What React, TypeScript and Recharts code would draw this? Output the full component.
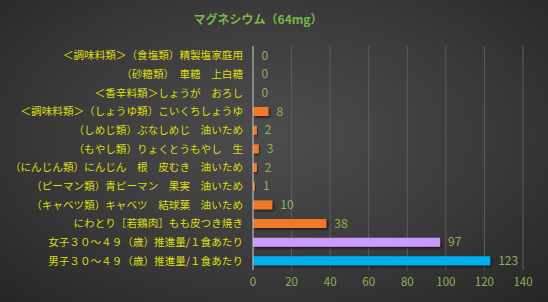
import { Bar, BarChart, CartesianGrid, Cell, LabelList, XAxis, YAxis } from "recharts";

const FOODS = [
  "＜調味料類＞（食塩類）精製塩家庭用",
  "（砂糖類）　車糖　上白糖",
  "＜香辛料類＞しょうが　おろし",
  "＜調味料類＞（しょうゆ類）こいくちしょうゆ",
  "（しめじ類）ぶなしめじ　油いため",
  "（もやし類）りょくとうもやし　生",
  "（にんじん類）にんじん　根　皮むき　油いため",
  "（ピーマン類）青ピーマン　果実　油いため",
  "（キャベツ類）キャベツ　結球葉　油いため",
  "にわとり［若鶏肉］もも皮つき焼き",
  "女子３０～４９（歳）推進量/１食あたり",
  "男子３０～４９（歳）推進量/１食あたり"
];

const MAGNESIUM = [0, 0, 0, 8, 2, 3, 2, 1, 10, 38, 97, 123];

const X_TICKS = [0, 20, 40, 60, 80, 100, 120, 140];

const ORANGE = "#f07a2c";
const PURPLE = "#cc99ff";
const BLUE = "#00b0f0";

const data = FOODS.map((name, i) => ({ name, value: MAGNESIUM[i] }));

function barColor(name: string, value: number) {
  if (value === 0) return "transparent";
  if (name.startsWith("女子")) return PURPLE;
  if (name.startsWith("男子")) return BLUE;
  return ORANGE;
}

const FONT = '"Noto Sans CJK JP", "Noto Sans", sans-serif';

function FoodTick(props: any) {
  const { x, y, payload } = props;
  return (
    <text
      x={x - 2}
      y={y}
      dy={4}
      textAnchor="end"
      fill="#dede10"
      fontSize={10.6}
      fontFamily={FONT}
    >
      {payload.value}
    </text>
  );
}

export default function App() {
  return (
    <div
      style={{
        position: "absolute",
        left: 0,
        top: 0,
        width: 548,
        height: 302,
        background: "radial-gradient(ellipse at 50% 45%, #4d4d4d 0%, #3a3a3a 55%, #262626 100%)",
        fontFamily: FONT
      }}
    >
      <div
        style={{
          position: "absolute",
          top: 10,
          left: 0,
          width: 516,
          textAlign: "center",
          color: "#78b848",
          fontSize: 12,
          fontWeight: "bold"
        }}
      >
        マグネシウム（64mg）
      </div>
      <BarChart
        width={548}
        height={302}
        data={data}
        layout="vertical"
        margin={{ top: 46, right: 25, bottom: 12, left: 0 }}
        barSize={9}
      >
        <defs>
          <filter id="barShadow" x="-10%" y="-50%" width="130%" height="250%">
            <feDropShadow dx="1.5" dy="1.5" stdDeviation="1" floodColor="#000" floodOpacity="0.6" />
          </filter>
        </defs>
        <CartesianGrid horizontal={false} stroke="#5c5c5c" />
        <XAxis
          type="number"
          domain={[0, 140]}
          ticks={X_TICKS}
          axisLine={false}
          tickLine={false}
          height={20}
          tick={{ fill: "#8db255", fontSize: 11.5, fontFamily: FONT }}
        />
        <YAxis
          type="category"
          dataKey="name"
          width={253}
          interval={0}
          axisLine={{ stroke: "#c0c0c0" }}
          tickLine={false}
          tick={<FoodTick />}
        />
        <Bar dataKey="value" minPointSize={0.5} isAnimationActive={false}>
          {data.map((d) => (
            <Cell
              key={d.name}
              fill={barColor(d.name, d.value)}
              filter={d.value === 0 ? undefined : "url(#barShadow)"}
            />
          ))}
          <LabelList
            dataKey="value"
            position="right"
            offset={8}
            fill="#8db255"
            fontSize={12}
            fontFamily={FONT}
          />
        </Bar>
      </BarChart>
    </div>
  );
}
